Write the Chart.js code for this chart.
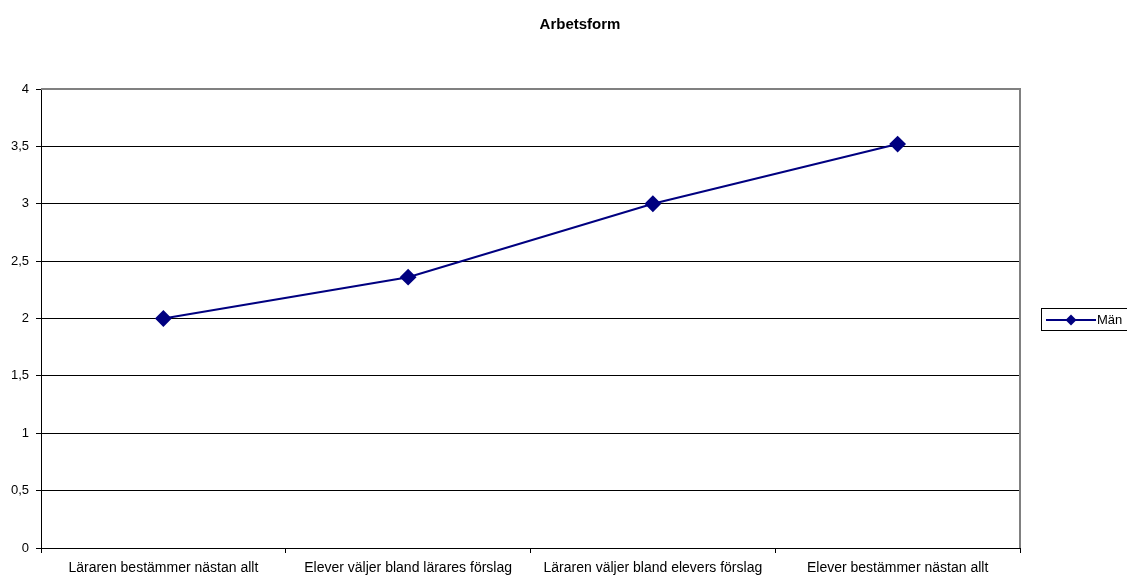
<!DOCTYPE html>
<html>
<head>
<meta charset="utf-8">
<script src="https://cdn.jsdelivr.net/npm/chart.js@4/dist/chart.umd.min.js"></script>
<style>
  html, body { margin: 0; padding: 0; background: #fff; }
  #wrap { width: 1127px; height: 577px; position: relative; }
</style>
</head>
<body>
<div id="wrap"><canvas id="chart"></canvas></div>
<script>
const chartTitle = 'Arbetsform';
const categories = [
  'Läraren bestämmer nästan allt',
  'Elever väljer bland lärares förslag',
  'Läraren väljer bland elevers förslag',
  'Elever bestämmer nästan allt'
];
const seriesName = 'Män';
const manValues = [2.0, 2.36, 3.0, 3.52];
const yTickLabels = ['0', '0,5', '1', '1,5', '2', '2,5', '3', '3,5', '4'];

const navy = '#000080';
const fontFamily = 'Arial, "Liberation Sans", sans-serif';

// title, grey frame and legend box drawn by hand like the original
const extras = {
  id: 'extras',
  afterDraw(chart) {
    const { ctx, chartArea: a } = chart;
    ctx.save();
    ctx.strokeStyle = '#808080';
    ctx.lineWidth = 2;
    ctx.beginPath();
    ctx.moveTo(a.left, a.top);
    ctx.lineTo(a.right, a.top);
    ctx.lineTo(a.right, a.bottom);
    ctx.stroke();

    ctx.fillStyle = '#000';
    ctx.font = 'bold 15px ' + fontFamily;
    ctx.textAlign = 'center';
    ctx.textBaseline = 'middle';
    ctx.fillText(chartTitle, 580, 25);

    // legend
    ctx.lineWidth = 1;
    ctx.strokeStyle = '#000';
    ctx.strokeRect(1041.5, 308.5, 100, 22);
    ctx.strokeStyle = navy;
    ctx.lineWidth = 2;
    ctx.beginPath();
    ctx.moveTo(1046, 320);
    ctx.lineTo(1096, 320);
    ctx.stroke();
    ctx.fillStyle = navy;
    ctx.beginPath();
    ctx.moveTo(1071, 314.5);
    ctx.lineTo(1076.5, 320);
    ctx.lineTo(1071, 325.5);
    ctx.lineTo(1065.5, 320);
    ctx.closePath();
    ctx.fill();
    ctx.fillStyle = '#000';
    ctx.font = '13px ' + fontFamily;
    ctx.textAlign = 'left';
    ctx.fillText(seriesName, 1097, 320);
    ctx.restore();
  }
};

new Chart(document.getElementById('chart'), {
  type: 'line',
  data: {
    labels: categories,
    datasets: [
      {
        label: seriesName,
        data: manValues,
        borderColor: navy,
        backgroundColor: navy,
        borderWidth: 2,
        pointStyle: 'rectRot',
        pointRadius: 7,
        pointHoverRadius: 7,
        tension: 0,
      },
    ],
  },
  options: {
    responsive: true,
    maintainAspectRatio: false,
    animation: false,
    layout: { padding: { top: 89, right: 107, left: 0, bottom: 0 } },
    plugins: {
      legend: { display: false },
      title: { display: false },
      tooltip: { enabled: false },
    },
    scales: {
      x: {
        offset: true,
        grid: { drawOnChartArea: false, drawTicks: true, tickLength: 5, color: '#000', offset: true },
        border: { color: '#000', width: 1 },
        ticks: { color: '#000', font: { family: fontFamily, size: 14 }, padding: 7, maxRotation: 0, autoSkip: false },
        afterFit: scale => { scale.height = 29; },
      },
      y: {
        min: 0,
        max: 4,
        grid: { color: '#000', tickLength: 5, lineWidth: 1 },
        border: { color: '#000', width: 1 },
        ticks: {
          stepSize: 0.5,
          color: '#000',
          font: { family: fontFamily, size: 13 },
          padding: 7,
          callback: (value, i) => yTickLabels[i],
        },
        afterFit: scale => { scale.width = 41; },
      },
    },
  },
  plugins: [extras],
});
</script>
</body>
</html>
